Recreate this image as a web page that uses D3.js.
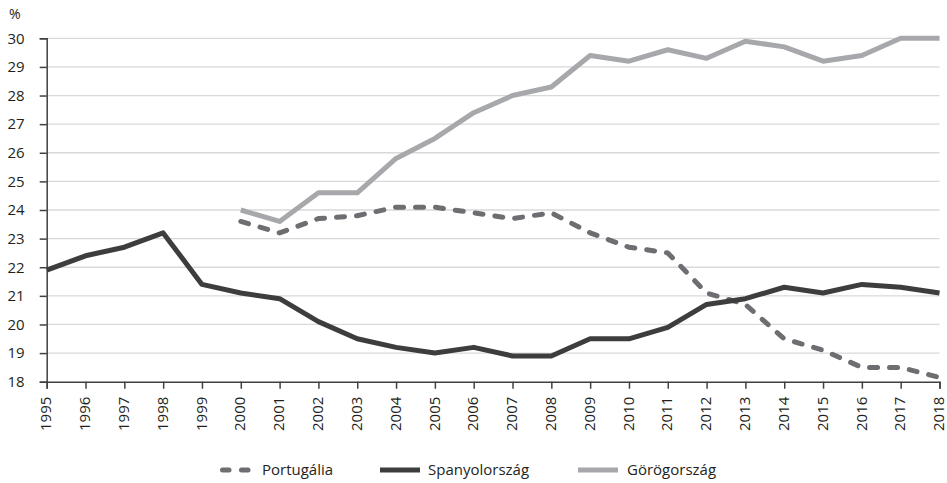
<!DOCTYPE html>
<html><head><meta charset="utf-8">
<script src="https://cdn.jsdelivr.net/npm/d3@7"></script>
<style>body{margin:0;background:#fff}svg{display:block}text{font-family:"Open Sans",sans-serif;fill:#231f20}</style>
</head><body><svg id="c" width="947" height="483"></svg>
<script>
const years = d3.range(1995, 2019);
const portugal = [null,null,null,null,null,23.6,23.2,23.7,23.8,24.1,24.1,23.9,23.7,23.9,23.2,22.7,22.5,21.1,20.7,19.5,19.1,18.5,18.5,18.15];
const spain = [21.9,22.4,22.7,23.2,21.4,21.1,20.9,20.1,19.5,19.2,19.0,19.2,18.9,18.9,19.5,19.5,19.9,20.7,20.9,21.3,21.1,21.4,21.3,21.1];
const greece = [null,null,null,null,null,24.0,23.6,24.6,24.6,25.8,26.5,27.4,28.0,28.3,29.4,29.2,29.6,29.3,29.9,29.7,29.2,29.4,30.0,30.0];
const yTicks = d3.range(18, 31);
const seriesNames = ["Portugália","Spanyolország","Görögország"];
const colors = ["#6d6e71","#3d3d3d","#a7a8ab"];

const svg = d3.select("#c");
const x = d3.scaleLinear().domain([1995, 2018]).range([46.7, 939.5]);
const y = d3.scaleLinear().domain([18, 30]).range([381.7, 38.3]);

// gridlines
svg.append("g").selectAll("line").data(yTicks.filter(t => t > 18)).join("line")
  .attr("x1", x(1995)).attr("x2", x(2018)).attr("y1", d => y(d)).attr("y2", d => y(d))
  .attr("stroke", "#d9d9d9").attr("stroke-width", 1.3);

// y axis
const ya = svg.append("g").attr("transform", `translate(${x(1995)},0)`)
  .call(d3.axisLeft(y).tickValues(yTicks).tickSize(7).tickPadding(15).tickFormat(d3.format("d")));
ya.select(".domain").attr("stroke", "#404040").attr("stroke-width", 1.5);
ya.selectAll(".tick line").attr("stroke", "#404040").attr("stroke-width", 1.5);
ya.selectAll("text").style("font-size", "15px").attr("fill", "#231f20");

// x axis
const xa = svg.append("g").attr("transform", `translate(0,${y(18)})`)
  .call(d3.axisBottom(x).tickValues(years).tickSize(7).tickFormat(d3.format("d")));
xa.select(".domain").attr("stroke", "#404040").attr("stroke-width", 1.5);
xa.selectAll(".tick line").attr("stroke", "#404040").attr("stroke-width", 1.5);
xa.selectAll("text").style("font-size", "15px").attr("fill", "#231f20")
  .attr("transform", "rotate(-90)").attr("text-anchor", "end")
  .attr("x", -15).attr("y", 0).attr("dy", "0.28em");

svg.append("text").attr("x", 9).attr("y", 19).style("font-size", "14px").text("%");

const line = d3.line().defined(d => d[1] != null).x(d => x(d[0])).y(d => y(d[1]));
const data = [portugal, spain, greece];
const order = [2, 0, 1];
order.forEach(i => {
  const p = svg.append("path").datum(years.map((yr, j) => [yr, data[i][j]]))
    .attr("d", line).attr("fill", "none").attr("stroke", colors[i]).attr("stroke-width", 5)
    .attr("stroke-linejoin", "round");
  if (i === 0) p.attr("stroke-dasharray", "8,12").attr("stroke-linecap", "round");
});

// legend
const lg = [{x: 220, tx: 262}, {x: 380, tx: 428}, {x: 578, tx: 627}];
lg.forEach((l, i) => {
  const g = svg.append("g");
  if (i === 0) {
    g.append("line").attr("x1", l.x + 2.5).attr("x2", l.x + 32).attr("y1", 470).attr("y2", 470)
      .attr("stroke", colors[i]).attr("stroke-width", 5).attr("stroke-linecap", "round").attr("stroke-dasharray", "6.5,12.5");
  } else {
    g.append("line").attr("x1", l.x).attr("x2", l.x + 40).attr("y1", 470).attr("y2", 470)
      .attr("stroke", colors[i]).attr("stroke-width", 5);
  }
  g.append("text").attr("x", l.tx).attr("y", 470).attr("dy", "0.35em").style("font-size", "15px").text(seriesNames[i]);
});
</script></body></html>
